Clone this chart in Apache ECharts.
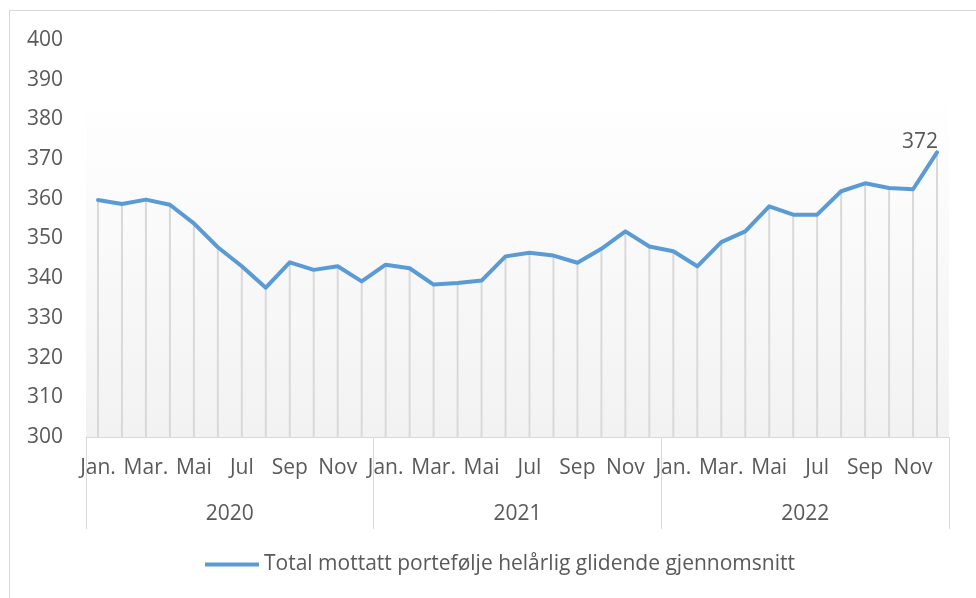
<!DOCTYPE html>
<html>
<head>
<meta charset="utf-8">
<script src="https://cdn.jsdelivr.net/npm/echarts@6/dist/echarts.min.js"></script>
<style>html,body{margin:0;padding:0;background:#fff}#c{width:976px;height:598px}</style>
</head>
<body>
<div id="c"></div>
<script>
const months = ['Jan.','Feb.','Mar.','Apr.','Mai','Jun','Jul','Aug','Sep','Okt','Nov','Des'];
const years = ['2020','2021','2022'];
const categories = [];
years.forEach(y => months.forEach(m => categories.push(m + ' ' + y)));
const seriesName = 'Total mottatt portefølje helårlig glidende gjennomsnitt';
const values = [
  359.7, 358.7, 359.8, 358.5, 353.8, 347.8, 343.0, 337.6, 344.0, 342.1, 343.0, 339.2,
  343.4, 342.5, 338.4, 338.8, 339.4, 345.5, 346.4, 345.7, 343.9, 347.4, 351.8, 348.0,
  346.8, 343.0, 349.1, 351.8, 358.1, 356.0, 356.0, 361.9, 363.9, 362.7, 362.4, 371.7
];
const yMin = 300, yMax = 400, yStep = 10;

const FONT = 'Open Sans';
const FS = 21;
const TXT = '#595959';
const chart = echarts.init(document.getElementById('c'));
chart.setOption({
  animation: false,
  textStyle: { fontFamily: FONT },
  graphic: [
    { type: 'line', shape: { x1: 9.5, y1: 10.5, x2: 9.5, y2: 598 }, style: { stroke: '#d9d9d9', lineWidth: 1 } },
    { type: 'line', shape: { x1: 9.5, y1: 10.5, x2: 976, y2: 10.5 }, style: { stroke: '#d9d9d9', lineWidth: 1 } }
  ],
  grid: {
    left: 86, right: 27, top: 40, bottom: 161, show: true, borderWidth: 0,
    backgroundColor: new echarts.graphic.LinearGradient(0, 0, 0, 1, [
      { offset: 0, color: '#ffffff' }, { offset: 0.135, color: '#ffffff' }, { offset: 1, color: '#f2f2f2' }
    ])
  },
  legend: {
    data: [{ name: seriesName, icon: 'rect' }],
    left: 205, top: 554, padding: 0, itemWidth: 54, itemHeight: 4, itemGap: 5,
    textStyle: { fontFamily: FONT, fontSize: FS, color: TXT, padding: [0, 0, 0, 0] }
  },
  xAxis: [
    {
      type: 'category', data: categories, boundaryGap: true,
      axisLine: { show: true, lineStyle: { color: '#d9d9d9', width: 1 } },
      axisTick: { show: false },
      axisLabel: {
        interval: 1, margin: 21, color: TXT, fontSize: FS, fontFamily: FONT,
        formatter: v => v.split(' ')[0]
      }
    },
    {
      type: 'category', data: years, position: 'bottom', boundaryGap: true,
      axisLine: { show: false },
      axisTick: { show: true, length: 92, lineStyle: { color: '#d9d9d9', width: 1 } },
      axisLabel: { margin: 67, color: TXT, fontSize: FS, fontFamily: FONT }
    }
  ],
  yAxis: {
    type: 'value', min: yMin, max: yMax, interval: yStep,
    axisLine: { show: false }, axisTick: { show: false }, splitLine: { show: false },
    axisLabel: { margin: 23, color: TXT, fontSize: FS, fontFamily: FONT }
  },
  series: [
    {
      type: 'bar', name: 'drop', data: values, barWidth: 2, xAxisIndex: 0,
      itemStyle: { color: '#d9d9d9' }, silent: true, z: 1
    },
    {
      type: 'line', name: seriesName,
      data: values.map((v, i) => i === values.length - 1 ? { value: v, label: { show: true } } : v),
      xAxisIndex: 0, symbol: 'circle', symbolSize: 2, showSymbol: true, showAllSymbol: true, z: 3,
      lineStyle: { color: '#5b9bd5', width: 4, cap: 'round', join: 'round' },
      itemStyle: { color: '#5b9bd5' },
      label: {
        show: false, position: 'top', offset: [-17, 6], color: TXT, fontSize: FS, fontFamily: FONT,
        formatter: p => Math.round(p.value)
      }
    }
  ]
});
</script>
</body>
</html>
